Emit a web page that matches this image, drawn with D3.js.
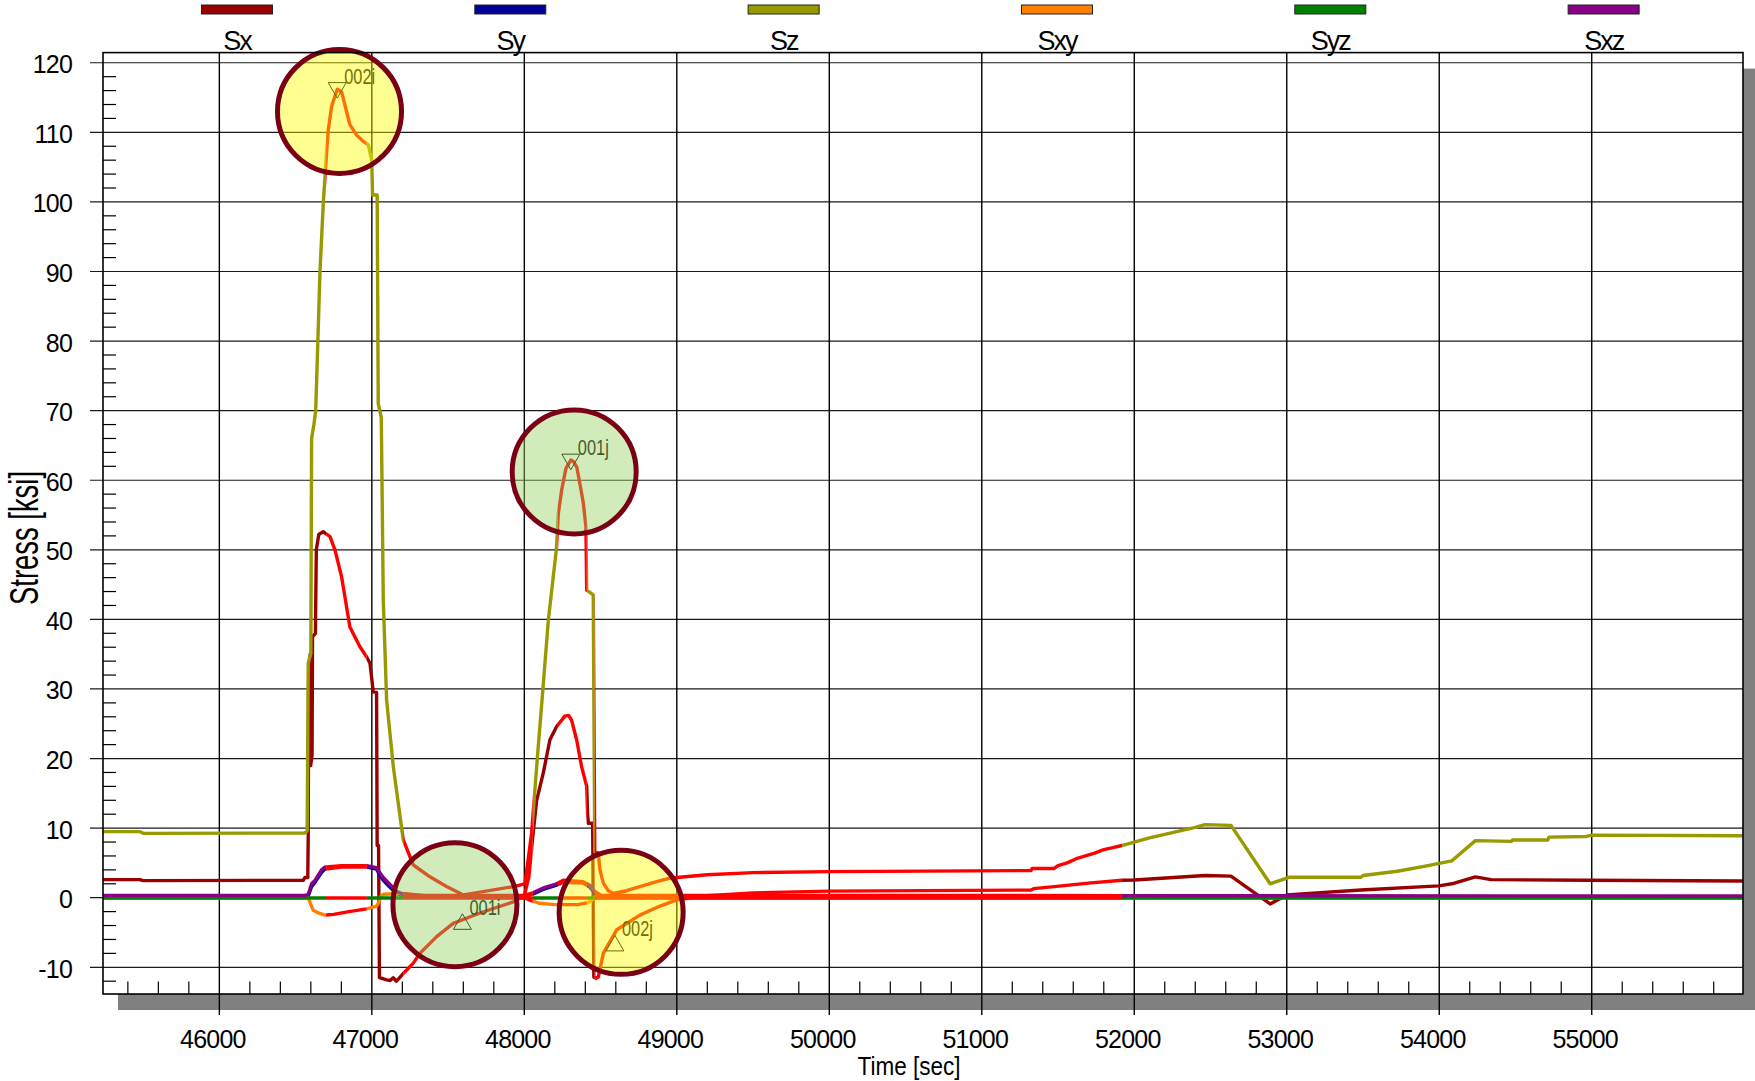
<!DOCTYPE html>
<html>
<head>
<meta charset="utf-8">
<script src="https://cdn.jsdelivr.net/npm/d3@7"></script>
<style>
  body { margin: 0; background: #fff; }
  text { font-family: "Liberation Sans", Arial, sans-serif; fill: #000; }
</style>
</head>
<body>
<svg id="chart" width="1755" height="1081"></svg>
<script>
// ---- Stress components vs. time, [time sec, stress ksi] ----
const sxData = [
  [45237,2.6],[45480,2.6],[45500,2.45],[46550,2.5],[46561,2.9],[46580,2.9],[46583,9.5],[46586,33],
  [46596,35],[46599,19],[46608,20.5],[46611,37.5],[46630,38],[46636,50],[46652,52.2],[46681,52.6],
  [46700,52.3],[46726,51.9],[46758,50],[46802,46.1],[46856,38.9],[46921,36.1],[46966,34.6],[46988,33.7],
  [47009,29.6],[47031,29.5],[47035,7.5],[47044,7.5],[47050,-11.5],[47097,-11.8],[47120,-11.9],[47140,-11.5],
  [47160,-12],[47178,-11.6],[47206,-10.9],[47272,-9.4],[47315,-8],[47425,-5.6],[47534,-3.7],[47709,-2.2],
  [47928,-0.6],[48000,0.3],[48030,3],[48055,8.7],[48081,14],[48124,17.9],[48168,22.7],[48212,24.6],
  [48266,26.1],[48290,26.2],[48310,25.5],[48343,22.7],[48376,18.8],[48409,16],[48415,12],[48420,10.7],
  [48448,10.7],[48456,-11.4],[48470,-11.6],[48485,-11.4],[48518,-8],[48606,-4.6],[48758,-2.5],[48890,-1.2],
  [49000,-0.3],[49200,0.3],[49500,0.7],[50000,0.95],[51323,1.1],[51340,1.3],[51475,1.6],[51700,2.1],
  [51919,2.5],[52000,2.55],[52464,3.2],[52634,3.1],[52891,-0.9],[53000,0.4],[53487,1.1],[53996,1.7],
  [54083,2.0],[54237,3.0],[54340,2.6],[54966,2.5],[55992,2.4]
];
const syData = [
  [45237,0.1],[46560,0.1],[46583,0.2],[46605,1.6],[46627,2.2],[46670,3.6],[46692,4.1],[46800,4.4],
  [46966,4.4],[47031,4.1],[47053,3.2],[47075,2.5],[47119,1.5],[47162,0.6],[47206,0.3],[48000,0.1],
  [48055,0.5],[48124,1.2],[48212,1.8],[48255,2.2],[48386,2.1],[48430,1.5],[48463,0.6],[48500,0.1],
  [55992,0.1]
];
const szData = [
  [45237,9.5],[45480,9.5],[45500,9.25],[46560,9.3],[46576,9.6],[46583,33.7],[46600,35.1],[46605,66],
  [46620,68],[46632,70],[46660,90],[46682,100],[46700,106],[46714,110.3],[46736,113.7],[46773,116.2],
  [46802,115.8],[46856,111.1],[46900,109.6],[46944,108.7],[46977,108.2],[46999,106],[47005,101],[47035,101],
  [47042,71],[47062,69],[47068,57],[47075,42.8],[47097,28.4],[47141,18.8],[47206,8.3],[47272,4.7],
  [47381,3.0],[47490,1.6],[47600,0.4],[47928,1.6],[48004,2.0],[48048,9.3],[48085,20],[48122,30],
  [48158,40],[48210,50],[48223,55.2],[48245,58.6],[48273,61.7],[48305,62.9],[48322,62.7],[48344,61.9],
  [48372,58.6],[48387,56.7],[48404,53.3],[48409,44.2],[48441,43.7],[48452,43.5],[48462,6.6],[48485,6.4],
  [48496,4.0],[48518,2.1],[48551,1.0],[48584,0.6],[48671,1.0],[48758,1.6],[48868,2.3],[48955,2.8],
  [49000,2.9],[49200,3.3],[49500,3.6],[50000,3.75],[51323,3.9],[51330,4.2],[51475,4.2],[51500,4.6],
  [51560,5.0],[51620,5.6],[51680,6.0],[51740,6.4],[51800,6.9],[51860,7.2],[51919,7.5],[52000,8.0],
  [52100,8.6],[52200,9.1],[52300,9.6],[52400,10.1],[52464,10.5],[52634,10.4],[52891,2.0],[53000,2.8],
  [53020,2.95],[53487,2.95],[53500,3.2],[53725,3.8],[53900,4.5],[54083,5.3],[54237,8.2],[54474,8.1],
  [54480,8.3],[54713,8.3],[54720,8.7],[54966,8.8],[55000,9.0],[55992,8.9]
];
const sxyData = [
  [45237,0],[46560,0],[46583,0],[46600,-1.0],[46615,-1.8],[46640,-2.1],[46692,-2.5],[46750,-2.4],
  [46850,-2.0],[46966,-1.6],[47031,-1.2],[47042,-0.8],[47060,0.2],[47075,0.5],[47200,0.6],[47350,0.3],
  [47600,0.05],[48000,0],[48030,-0.3],[48100,-0.8],[48200,-1.0],[48350,-1.0],[48420,-0.7],[48463,0],
  [55992,0]
];
const syzData = [
  [45237,-0.05],[55992,-0.05]
];
const sxzData = [
  [45237,0.33],[46560,0.33],[46583,0.45],[46605,2.0],[46627,2.5],[46670,4.0],[46692,4.4],[46800,4.6],
  [46966,4.6],[47031,4.3],[47053,3.6],[47075,2.9],[47119,1.9],[47162,0.9],[47206,0.5],[47300,0.35],
  [48000,0.33],[48055,0.7],[48124,1.4],[48212,2.0],[48255,2.5],[48386,2.3],[48430,1.8],[48463,0.9],
  [48500,0.35],[52000,0.3],[55992,0.24]
];

const seriesNames  = ["Sx", "Sy", "Sz", "Sxy", "Syz", "Sxz"];
const seriesData   = [sxData, syData, szData, sxyData, syzData, sxzData];
const seriesColors = ["#990000", "#000099", "#999900", "#ff8000", "#008000", "#880088"];

// time windows flagged as critical (drawn in red on every component)
const criticalWindows = [[46700, 46966], [47206, 48055], [48220, 48410], [48462, 51920]];

// extreme-point markers
const markerNames  = ["002i", "001j", "001i", "002j"];
const markerTimes  = [46773, 48305, 47594, 48594];
const markerValues = [116.4, 63.0, -3.8, -6.9];
const markerKinds  = ["max", "max", "min", "min"];

// highlight rings around the markers
const ringTimes  = [46788, 48327, 47545, 48635];
const ringValues = [113.0, 61.2, -1.0, -2.1];

// axes
const xExtent = [45237, 55992];
const yExtent = [-13.84, 121.46];
const xTickLabels = [46000, 47000, 48000, 49000, 50000, 51000, 52000, 53000, 54000, 55000];
const yTickLabels = [-10, 0, 10, 20, 30, 40, 50, 60, 70, 80, 90, 100, 110, 120];

// ---- layout ----
const plot = { left: 103, right: 1743, top: 52.6, bottom: 994 };
const svg = d3.select("#chart");
const x = d3.scaleLinear().domain(xExtent).range([plot.left, plot.right]);
const y = d3.scaleLinear().domain(yExtent).range([plot.bottom, plot.top]);
const pw = plot.right - plot.left, ph = plot.bottom - plot.top;

// drop shadow and plot background
svg.append("rect").attr("x", plot.left + 15).attr("y", plot.top + 16)
  .attr("width", pw).attr("height", ph).attr("fill", "#808080");
svg.append("rect").attr("x", plot.left).attr("y", plot.top)
  .attr("width", pw).attr("height", ph).attr("fill", "#fff");

// grid
svg.append("g").selectAll("line").data(yTickLabels).join("line")
  .attr("x1", plot.left - 13).attr("x2", plot.right)
  .attr("y1", d => y(d)).attr("y2", d => y(d))
  .attr("stroke", "#1a1a1a").attr("stroke-width", 1.2);
svg.append("g").selectAll("line").data(xTickLabels).join("line")
  .attr("x1", d => x(d)).attr("x2", d => x(d))
  .attr("y1", plot.top).attr("y2", plot.bottom + 21)
  .attr("stroke", "#000").attr("stroke-width", 1.4);

// clip regions inside / outside the critical windows
const defs = svg.append("defs");
const clipIn = defs.append("clipPath").attr("id", "clip-in");
clipIn.selectAll("rect").data(criticalWindows).join("rect")
  .attr("x", d => x(d[0])).attr("width", d => x(d[1]) - x(d[0]))
  .attr("y", plot.top).attr("height", ph);
const gaps = [];
let prev = xExtent[0];
criticalWindows.forEach(w => { gaps.push([prev, w[0]]); prev = w[1]; });
gaps.push([prev, xExtent[1]]);
const clipOut = defs.append("clipPath").attr("id", "clip-out");
clipOut.selectAll("rect").data(gaps).join("rect")
  .attr("x", d => x(d[0])).attr("width", d => x(d[1]) - x(d[0]))
  .attr("y", plot.top).attr("height", ph);

// series lines
const line = d3.line().x(d => x(d[0])).y(d => y(d[1]));
const gLines = svg.append("g").attr("fill", "none")
  .attr("stroke-width", 3.4).attr("stroke-linejoin", "round").attr("stroke-linecap", "butt");
seriesData.forEach((data, i) => {
  gLines.append("path").attr("d", line(data))
    .attr("stroke", seriesColors[i]).attr("clip-path", "url(#clip-out)");
  gLines.append("path").attr("d", line(data))
    .attr("stroke", "#ff0000").attr("clip-path", "url(#clip-in)");
});

// markers and their names
const tri = d3.symbol().type(d3.symbolTriangle).size(140);
const triH = Math.sqrt(140 * 4 / Math.sqrt(3)) * Math.sqrt(3) / 2;
const gMarks = svg.append("g");
markerNames.forEach((name, i) => {
  const cx = x(markerTimes[i]), cy = y(markerValues[i]);
  const down = markerKinds[i] === "max";
  gMarks.append("path").attr("d", tri())
    .attr("transform", `translate(${cx},${cy})` + (down ? " rotate(180)" : ""))
    .attr("fill", "none").attr("stroke", "#000").attr("stroke-width", 1);
  const top = down ? cy - triH / 3 : cy - 2 * triH / 3;
  gMarks.append("text").attr("x", cx + 7).attr("y", top + 1)
    .attr("font-size", 22).attr("textLength", 31).attr("lengthAdjust", "spacingAndGlyphs")
    .text(name);
});

// translucent highlight rings
const ringFill = { "001": "rgb(150,209,98)", "002": "rgb(255,255,0)" };
svg.append("g").selectAll("circle").data(markerNames).join("circle")
  .attr("cx", (d, i) => x(ringTimes[i])).attr("cy", (d, i) => y(ringValues[i]))
  .attr("r", 62)
  .attr("fill", d => ringFill[d.slice(0, 3)]).attr("fill-opacity", 0.43)
  .attr("stroke", "#7a0014").attr("stroke-width", 5);

// frame
svg.append("rect").attr("x", plot.left).attr("y", plot.top)
  .attr("width", pw).attr("height", ph)
  .attr("fill", "none").attr("stroke", "#000").attr("stroke-width", 1.6);

// minor ticks
const xMinor = d3.range(45400, 56000, 200).filter(t => t % 1000 !== 0 && t < xExtent[1]);
svg.append("g").selectAll("line").data(xMinor).join("line")
  .attr("x1", d => x(d)).attr("x2", d => x(d))
  .attr("y1", plot.bottom).attr("y2", plot.bottom - 12.5)
  .attr("stroke", "#000").attr("stroke-width", 1.2);
const yMinor = d3.range(-12, 121, 2).filter(v => v % 10 !== 0);
svg.append("g").selectAll("line").data(yMinor).join("line")
  .attr("x1", plot.left).attr("x2", plot.left + 13)
  .attr("y1", d => y(d)).attr("y2", d => y(d))
  .attr("stroke", "#000").attr("stroke-width", 1.2);

// tick labels
svg.append("g").selectAll("text").data(xTickLabels).join("text")
  .attr("x", d => x(d) - 6.5).attr("y", 1047.5)
  .attr("text-anchor", "middle").attr("font-size", 25).attr("letter-spacing", -0.8)
  .text(d => d);
svg.append("g").selectAll("text").data(yTickLabels).join("text")
  .attr("x", 72).attr("y", d => y(d) + 10.5)
  .attr("text-anchor", "end").attr("font-size", 25).attr("letter-spacing", -0.8)
  .text(d => d);

// axis titles
svg.append("text").attr("x", 909).attr("y", 1075)
  .attr("text-anchor", "middle").attr("font-size", 25)
  .attr("textLength", 103).attr("lengthAdjust", "spacingAndGlyphs")
  .text("Time [sec]");
svg.append("text").attr("transform", "translate(38,538) rotate(-90)")
  .attr("text-anchor", "middle").attr("font-size", 41)
  .attr("textLength", 134).attr("lengthAdjust", "spacingAndGlyphs")
  .text("Stress [ksi]");

// legend
const legend = d3.scaleBand().domain(seriesNames).range([100.3, 1740.3]);
const gLeg = svg.append("g");
seriesNames.forEach((name, i) => {
  const cx = legend(name) + legend.bandwidth() / 2;
  gLeg.append("rect").attr("x", cx - 35.5).attr("y", 5).attr("width", 71).attr("height", 9)
    .attr("fill", seriesColors[i]).attr("stroke", "#222").attr("stroke-width", 1);
  gLeg.append("text").attr("x", cx).attr("y", 50)
    .attr("text-anchor", "middle").attr("font-size", 27).attr("letter-spacing", -2)
    .text(name);
});
</script>
</body>
</html>
